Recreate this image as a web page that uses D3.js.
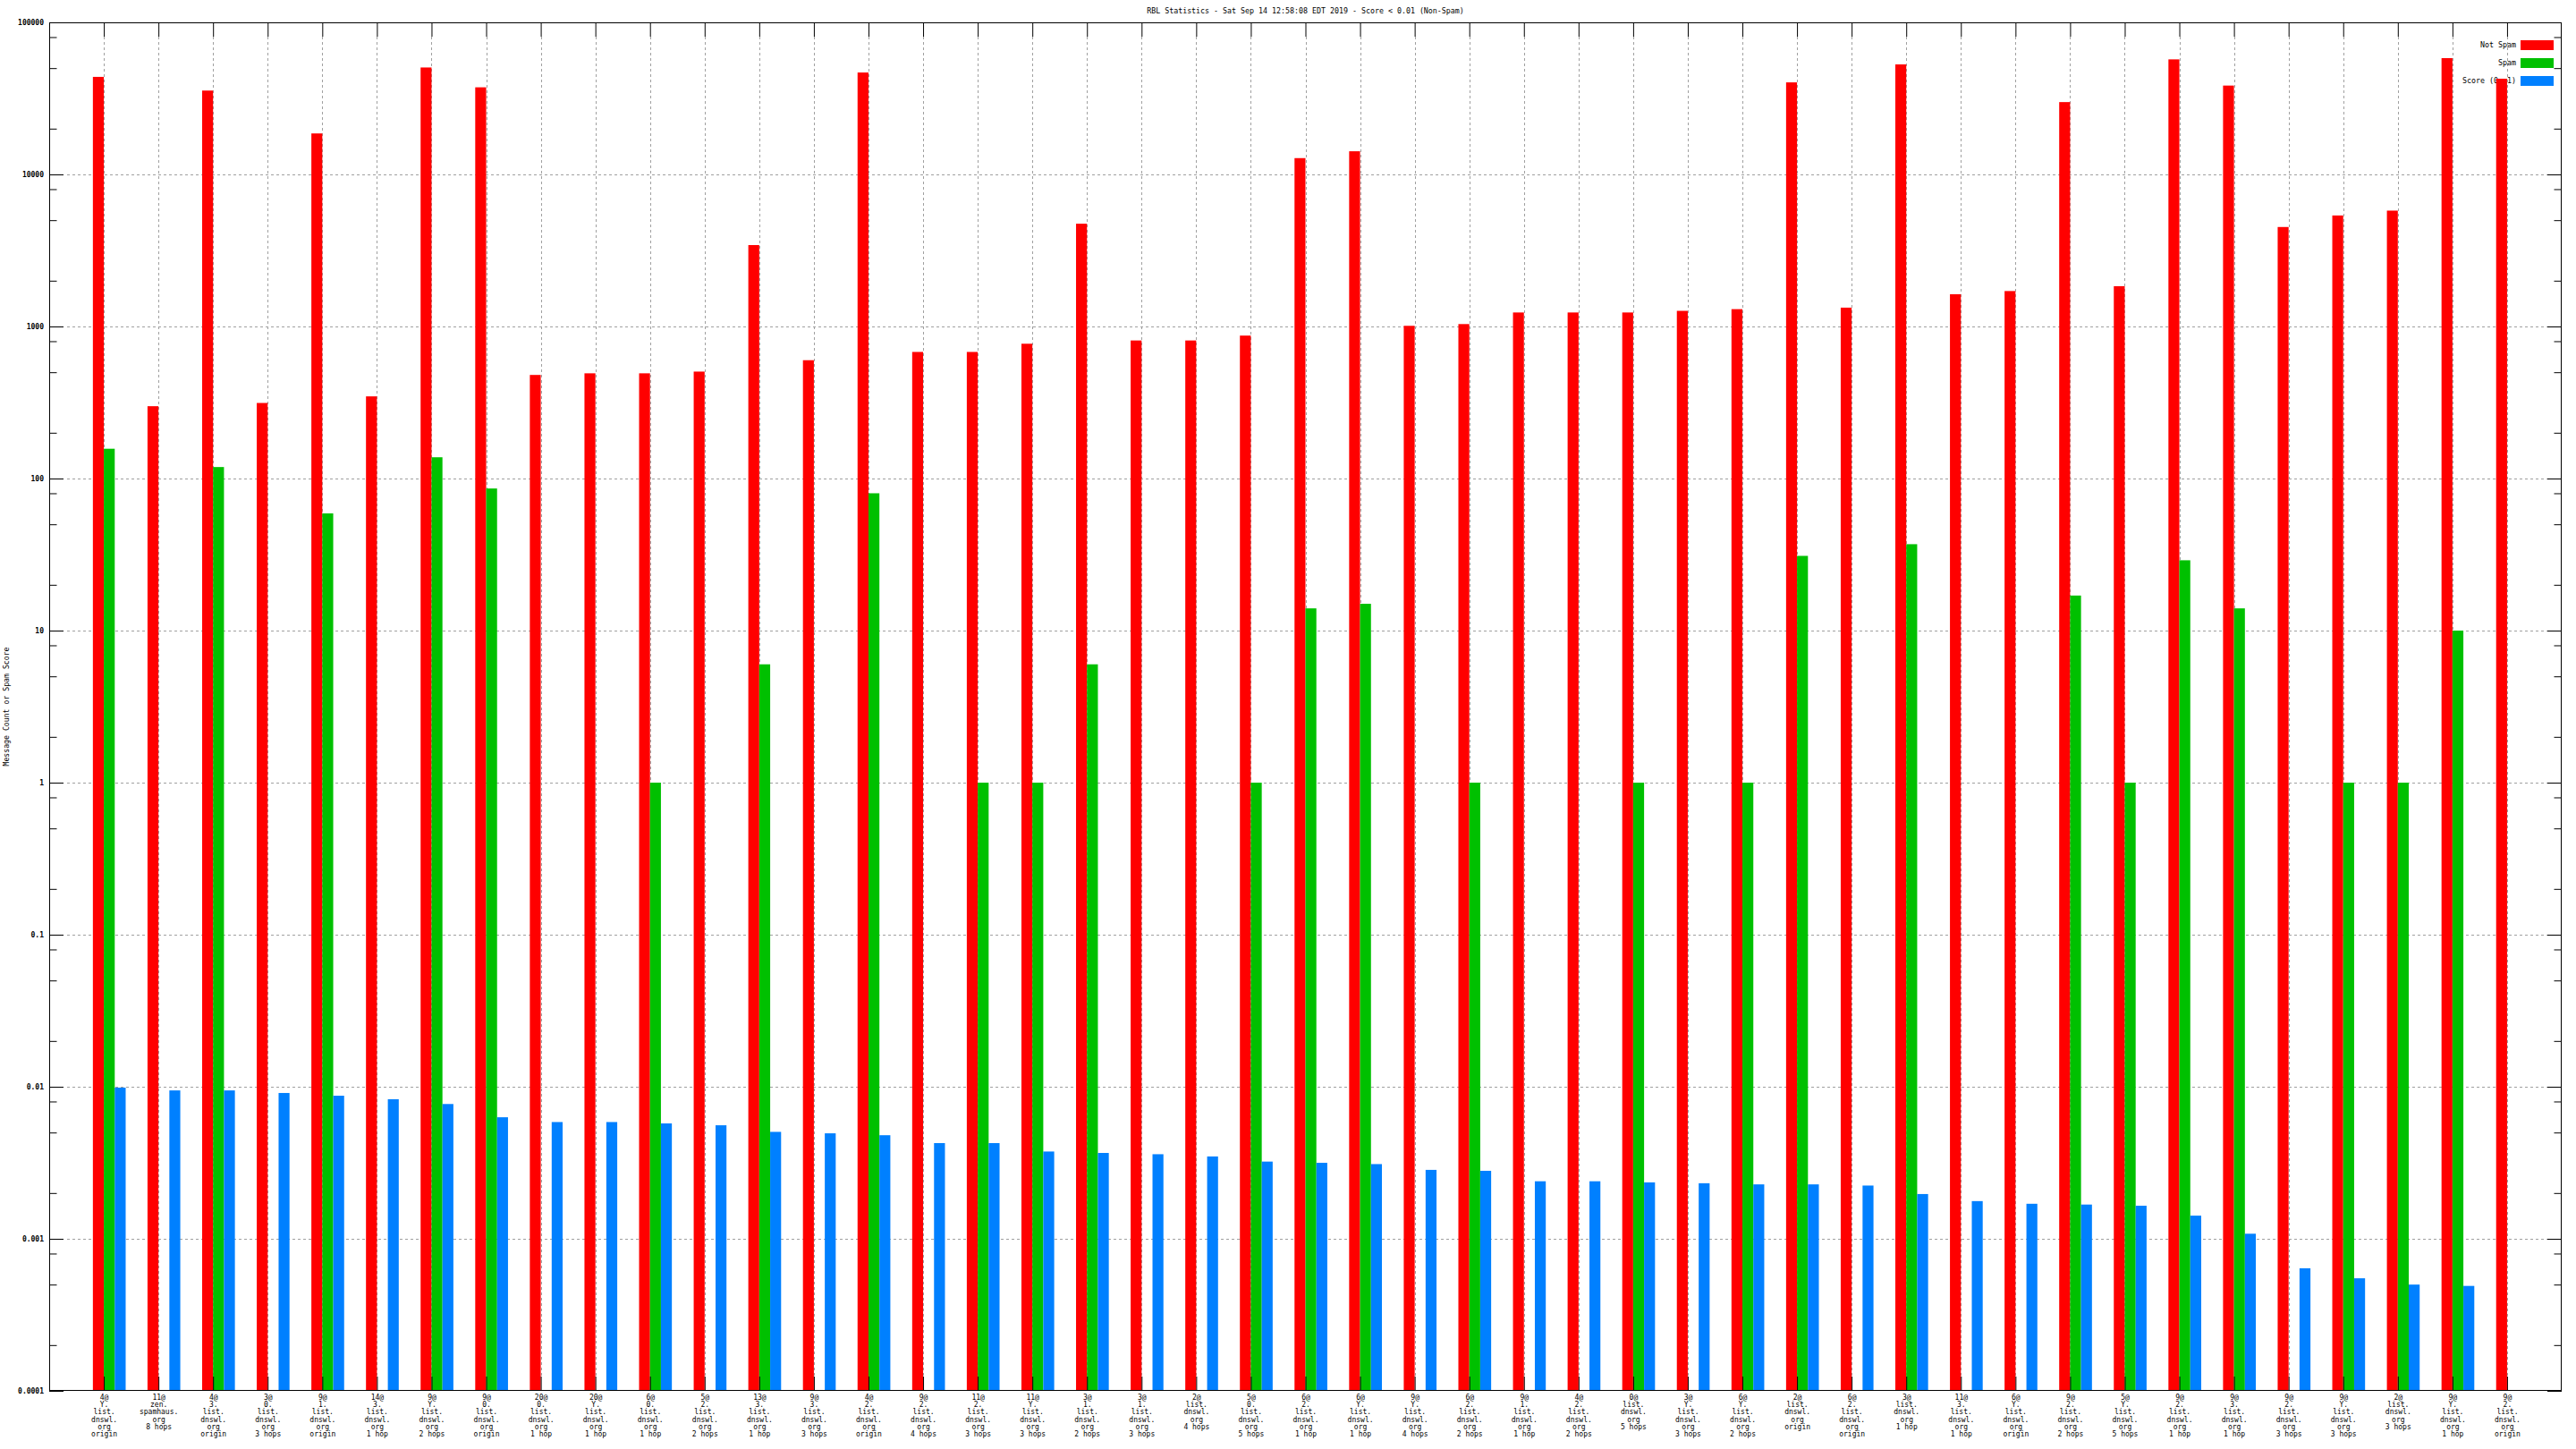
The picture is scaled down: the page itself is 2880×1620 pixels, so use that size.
<!DOCTYPE html>
<html>
<head>
<meta charset="utf-8">
<script src="https://cdn.jsdelivr.net/npm/d3@7"></script>
<style>
  html, body { margin: 0; padding: 0; background: #ffffff; }
  svg { display: block; }
</style>
</head>
<body>
<script>
const title = "RBL Statistics - Sat Sep 14 12:58:08 EDT 2019 - Score < 0.01 (Non-Spam)";
const yAxisTitle = "Message Count or Spam Score";
const seriesNames = ["Not Spam", "Spam", "Score (0..1)"];
const seriesColors = ["#ff0000", "#00c000", "#0080ff"];

const categories = [
  "4@\nY.\nlist.\ndnswl.\norg\norigin",
  "11@\nzen.\nspamhaus.\norg\n8 hops",
  "4@\n3.\nlist.\ndnswl.\norg\norigin",
  "3@\n0.\nlist.\ndnswl.\norg\n3 hops",
  "9@\n1.\nlist.\ndnswl.\norg\norigin",
  "14@\n3.\nlist.\ndnswl.\norg\n1 hop",
  "9@\nY.\nlist.\ndnswl.\norg\n2 hops",
  "9@\n0.\nlist.\ndnswl.\norg\norigin",
  "20@\n0.\nlist.\ndnswl.\norg\n1 hop",
  "20@\nY.\nlist.\ndnswl.\norg\n1 hop",
  "6@\n0.\nlist.\ndnswl.\norg\n1 hop",
  "5@\n2.\nlist.\ndnswl.\norg\n2 hops",
  "13@\n3.\nlist.\ndnswl.\norg\n1 hop",
  "9@\n3.\nlist.\ndnswl.\norg\n3 hops",
  "4@\n2.\nlist.\ndnswl.\norg\norigin",
  "9@\n2.\nlist.\ndnswl.\norg\n4 hops",
  "11@\n2.\nlist.\ndnswl.\norg\n3 hops",
  "11@\nY.\nlist.\ndnswl.\norg\n3 hops",
  "3@\n1.\nlist.\ndnswl.\norg\n2 hops",
  "3@\n1.\nlist.\ndnswl.\norg\n3 hops",
  "2@\nlist.\ndnswl.\norg\n4 hops",
  "5@\n0.\nlist.\ndnswl.\norg\n5 hops",
  "6@\n2.\nlist.\ndnswl.\norg\n1 hop",
  "6@\nY.\nlist.\ndnswl.\norg\n1 hop",
  "9@\nY.\nlist.\ndnswl.\norg\n4 hops",
  "6@\n2.\nlist.\ndnswl.\norg\n2 hops",
  "9@\n1.\nlist.\ndnswl.\norg\n1 hop",
  "4@\n2.\nlist.\ndnswl.\norg\n2 hops",
  "0@\nlist.\ndnswl.\norg\n5 hops",
  "3@\nY.\nlist.\ndnswl.\norg\n3 hops",
  "6@\nY.\nlist.\ndnswl.\norg\n2 hops",
  "2@\nlist.\ndnswl.\norg\norigin",
  "6@\n2.\nlist.\ndnswl.\norg\norigin",
  "3@\nlist.\ndnswl.\norg\n1 hop",
  "11@\n3.\nlist.\ndnswl.\norg\n1 hop",
  "6@\nY.\nlist.\ndnswl.\norg\norigin",
  "9@\n2.\nlist.\ndnswl.\norg\n2 hops",
  "5@\nY.\nlist.\ndnswl.\norg\n5 hops",
  "9@\n2.\nlist.\ndnswl.\norg\n1 hop",
  "9@\n3.\nlist.\ndnswl.\norg\n1 hop",
  "9@\n2.\nlist.\ndnswl.\norg\n3 hops",
  "9@\nY.\nlist.\ndnswl.\norg\n3 hops",
  "2@\nlist.\ndnswl.\norg\n3 hops",
  "9@\nY.\nlist.\ndnswl.\norg\n1 hop",
  "9@\n2.\nlist.\ndnswl.\norg\norigin"
];

const notSpam = [
  43800, 299, 35600, 314, 18600, 347, 50500, 37400, 480, 492,
  492, 505, 3430, 600, 46800, 680, 680, 770, 4740, 809,
  809, 871, 12800, 14200, 1010, 1037, 1236, 1236, 1236, 1267,
  1300, 40300, 1330, 52900, 1630, 1710, 29900, 1840, 57100, 38400,
  4510, 5370, 5780, 58200, 42600
];

const spam = [
  157, null, 119, null, 59, null, 138, 86, null, null,
  1, null, 6, null, 80, null, 1, 1, 6, null,
  null, 1, 14, 15, null, 1, null, null, 1, null,
  1, 31, null, 37, null, null, 17, 1, 29, 14,
  null, 1, 1, 10, null
];

const score = [
  0.00987, 0.00946, 0.00946, 0.0091, 0.00873, 0.00828, 0.0077, 0.0063, 0.00586, 0.00586,
  0.00574, 0.00558, 0.00505, 0.00494, 0.0048, 0.00426, 0.00426, 0.00375, 0.00367, 0.0036,
  0.00348, 0.00322, 0.00316, 0.0031, 0.00284, 0.0028, 0.00239, 0.00239, 0.00235, 0.00232,
  0.00228, 0.00228, 0.00224, 0.00197, 0.00177, 0.0017, 0.00168, 0.00165, 0.00142, 0.00108,
  0.00064, 0.00055, 0.0005, 0.00049, null
];

const yMajorTicks = [0.0001, 0.001, 0.01, 0.1, 1, 10, 100, 1000, 10000, 100000];
const yTickLabels = ["0.0001", "0.001", "0.01", "0.1", "1", "10", "100", "1000", "10000", "100000"];
const yMinorMultipliers = [2, 5, 8];

const W = 2880, H = 1620;
const L = 55, R = 2864, T = 25, B = 1555;
const MONO = "'DejaVu Sans Mono', 'Liberation Mono', monospace";

const svg = d3.select("body").append("svg")
  .attr("width", W).attr("height", H)
  .attr("viewBox", `0 0 ${W} ${H}`)
  .style("background", "#fff");

const n = categories.length;
const x = d3.scaleLinear().domain([-1, n]).range([L, R]);
const y = d3.scaleLog().domain([1e-4, 1e5]).range([B, T]);
const barW = 0.2;

const minorTicks = [];
yMajorTicks.slice(0, -1).forEach(v => yMinorMultipliers.forEach(m => minorTicks.push(v * m)));

// grid
const grid = svg.append("g").attr("stroke", "#a0a0a0").attr("stroke-width", 1)
  .attr("stroke-dasharray", "3,3").attr("fill", "none");
yMajorTicks.slice(1, -1).forEach(v => {
  grid.append("line").attr("x1", L + 20).attr("x2", R - 16)
    .attr("y1", Math.round(y(v)) + 0.5).attr("y2", Math.round(y(v)) + 0.5);
});
d3.range(n).forEach(i => {
  grid.append("line").attr("x1", Math.round(x(i)) + 0.5).attr("x2", Math.round(x(i)) + 0.5)
    .attr("y1", T + 16).attr("y2", B - 16);
});

// title
svg.append("text").attr("x", (L + R) / 2).attr("y", 15)
  .attr("text-anchor", "middle").attr("font-family", MONO).attr("font-size", 8.3)
  .attr("fill", "#000").text(title);

// y axis title
svg.append("text").attr("transform", `translate(10,${(T + B) / 2}) rotate(-90)`)
  .attr("text-anchor", "middle").attr("font-family", MONO).attr("font-size", 8.2)
  .attr("fill", "#000").text(yAxisTitle);

// legend (drawn before bars, as in the reference)
const legend = svg.append("g");
seriesNames.forEach((name, k) => {
  const cy = 50.5 + k * 20;
  legend.append("text").attr("x", 2813).attr("y", cy).attr("dy", "0.35em")
    .attr("text-anchor", "end").attr("font-family", MONO).attr("font-size", 8.3)
    .attr("fill", "#000").text(name);
  legend.append("rect").attr("x", 2818).attr("y", cy - 5.5).attr("width", 37).attr("height", 11)
    .attr("fill", seriesColors[k]);
});

// bars
const series = [notSpam, spam, score];
series.forEach((vals, k) => {
  svg.append("g").attr("fill", seriesColors[k])
    .selectAll("rect")
    .data(vals.map((v, i) => ({ v, i })).filter(d => d.v != null && d.v > 0))
    .join("rect")
    .attr("x", d => x(d.i + (k - 1) * barW))
    .attr("width", d => x(d.i + k * barW) - x(d.i + (k - 1) * barW))
    .attr("y", d => y(d.v))
    .attr("height", d => B - y(d.v));
});

// axes
function styleAxis(g) {
  g.select(".domain").remove();
  g.selectAll(".tick line").attr("stroke", "#000").attr("stroke-width", 1);
}

const leftMajor = svg.append("g").attr("transform", `translate(${L},0)`)
  .call(d3.axisLeft(y).tickValues(yMajorTicks).tickSize(-16).tickPadding(6)
    .tickFormat((d, i) => yTickLabels[i]))
  .call(styleAxis);
leftMajor.selectAll(".tick text").attr("font-family", MONO).attr("font-size", 8)
  .attr("font-weight", "bold").attr("fill", "#000");

svg.append("g").attr("transform", `translate(${L},0)`)
  .call(d3.axisLeft(y).tickValues(minorTicks).tickSize(-8.5).tickFormat(""))
  .call(styleAxis);

svg.append("g").attr("transform", `translate(${R},0)`)
  .call(d3.axisRight(y).tickValues(yMajorTicks).tickSize(-16).tickFormat(""))
  .call(styleAxis);
svg.append("g").attr("transform", `translate(${R},0)`)
  .call(d3.axisRight(y).tickValues(minorTicks).tickSize(-8.5).tickFormat(""))
  .call(styleAxis);

svg.append("g").attr("transform", `translate(0,${T})`)
  .call(d3.axisTop(x).tickValues(d3.range(n)).tickSize(-16).tickFormat(""))
  .call(styleAxis);

const bottom = svg.append("g").attr("transform", `translate(0,${B})`)
  .call(d3.axisBottom(x).tickValues(d3.range(n)).tickSize(-16).tickPadding(0)
    .tickFormat(i => categories[i]))
  .call(styleAxis);
bottom.selectAll(".tick text").each(function (i) {
  const t = d3.select(this);
  const lines = categories[i].split("\n");
  t.text(null).attr("y", 0).attr("dy", null)
    .attr("font-family", MONO).attr("font-size", 8).attr("fill", "#000")
    .attr("text-anchor", "middle");
  lines.forEach((ln, j) => {
    t.append("tspan").attr("x", 0).attr("y", 10 + j * 8.2).text(ln);
  });
});

// border
svg.append("rect").attr("x", L + 0.5).attr("y", T + 0.5)
  .attr("width", R - L - 1).attr("height", B - T - 1)
  .attr("fill", "none").attr("stroke", "#000").attr("stroke-width", 1);
</script>
</body>
</html>
